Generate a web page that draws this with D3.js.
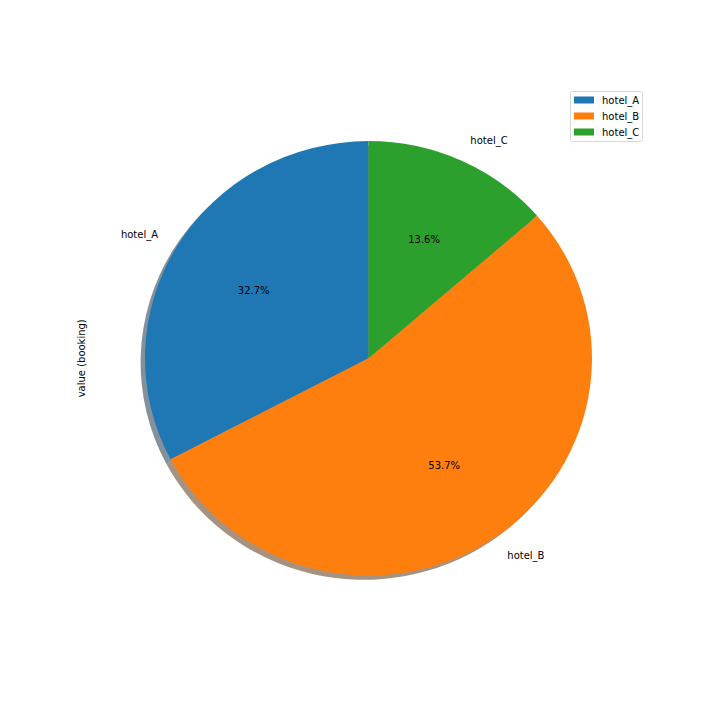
<!DOCTYPE html>
<html>
<head>
<meta charset="utf-8">
<script src="https://cdn.jsdelivr.net/npm/d3@7"></script>
<style>
  body { margin: 0; background: #fff; }
  text { font-family: "DejaVu Sans", sans-serif; font-size: 10px; fill: #000; }
</style>
</head>
<body>
<div id="chart"></div>
<script>
var width = 720;
var height = 720;

var hotels = ["hotel_A", "hotel_B", "hotel_C"];
var bookings = [327, 537, 136];
var colors = ["#1f77b4", "#ff7f0e", "#2ca02c"];

var cx = 368.5, cy = 358.3;
var rx = 223.5, ry = 217.2;

var color = d3.scaleOrdinal().domain(hotels).range(colors);

var svg = d3.select("#chart")
            .append("svg")
            .attr("width", width)
            .attr("height", height);

var data = hotels.map(function(h, i) { return { name: h, value: bookings[i] }; });
var total = d3.sum(bookings);

// matplotlib: startangle=90, counterclockwise
var pie = d3.pie()
            .value(function(d) { return d.value; })
            .sort(null)
            .startAngle(0)
            .endAngle(-2 * Math.PI);

var arcs = pie(data);
var arc = d3.arc().innerRadius(0).outerRadius(rx);

// shadow
var shadow = svg.append("g")
                .attr("transform", "translate(" + (cx - 4.4) + "," + (cy + 4.3) + ") scale(1," + (ry / rx) + ")");
shadow.selectAll("path")
      .data(arcs)
      .enter()
      .append("path")
      .attr("d", arc)
      .style("fill", function(d) {
          var c = d3.rgb(color(d.data.name));
          return d3.rgb(c.r * 0.3, c.g * 0.3, c.b * 0.3);
      })
      .style("opacity", 0.5);

var slices = svg.append("g")
                .attr("transform", "translate(" + cx + "," + cy + ") scale(1," + (ry / rx) + ")");
slices.selectAll("path")
      .data(arcs)
      .enter()
      .append("path")
      .attr("d", arc)
      .style("fill", function(d) { return color(d.data.name); });

function mid(d) { return (d.startAngle + d.endAngle) / 2; }

// outer labels
svg.selectAll(".lbl")
   .data(arcs)
   .enter()
   .append("text")
   .attr("class", "lbl")
   .attr("x", function(d) { return cx + 1.1 * rx * Math.sin(mid(d)); })
   .attr("y", function(d) { return cy - 1.1 * ry * Math.cos(mid(d)); })
   .attr("text-anchor", function(d) { return Math.sin(mid(d)) < 0 ? "end" : "start"; })
   .attr("dominant-baseline", "central")
   .text(function(d) { return d.data.name; });

// percent labels
svg.selectAll(".pct")
   .data(arcs)
   .enter()
   .append("text")
   .attr("class", "pct")
   .attr("x", function(d) { return cx + 0.6 * rx * Math.sin(mid(d)); })
   .attr("y", function(d) { return cy - 0.6 * ry * Math.cos(mid(d)); })
   .attr("text-anchor", "middle")
   .attr("dominant-baseline", "central")
   .text(function(d) { return (d.data.value / total * 100).toFixed(1) + "%"; });

// y label
svg.append("text")
   .attr("transform", "translate(81," + cy + ") rotate(-90)")
   .attr("text-anchor", "middle")
   .attr("dominant-baseline", "central")
   .text("value (booking)");

// legend
var legend = svg.append("g");
legend.append("rect")
      .attr("x", 570.5).attr("y", 91.5)
      .attr("width", 72).attr("height", 50)
      .attr("rx", 2)
      .style("fill", "#fff").style("stroke", "#d8d8d8");
hotels.forEach(function(h, i) {
    legend.append("rect")
          .attr("x", 574).attr("y", 96.5 + i * 16)
          .attr("width", 20).attr("height", 7)
          .style("fill", color(h));
    legend.append("text")
          .attr("x", 602).attr("y", 100 + i * 16)
          .attr("dominant-baseline", "central")
          .text(h);
});
</script>
</body>
</html>
